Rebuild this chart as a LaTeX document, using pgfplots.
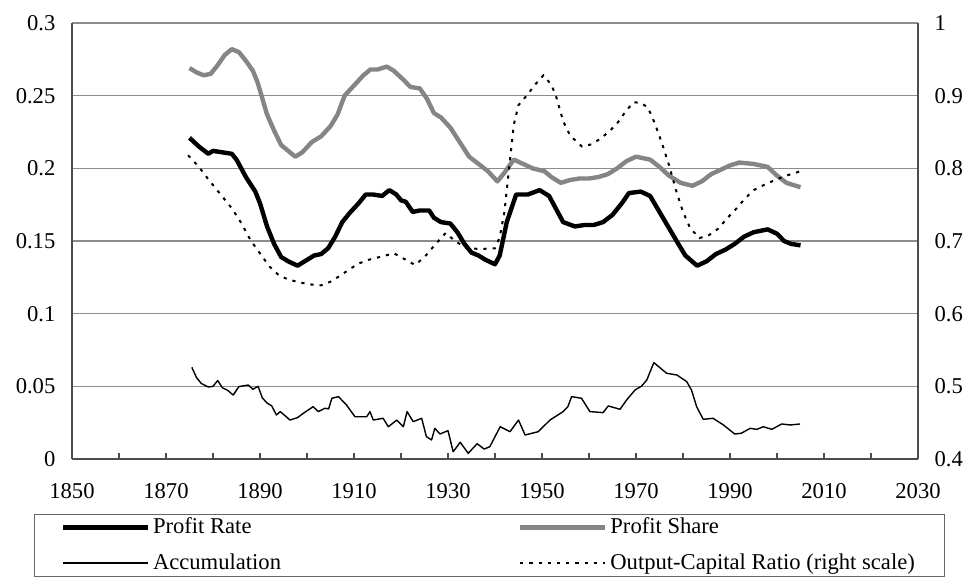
\documentclass[border=0pt]{standalone}
\usepackage{fontspec}
\setmainfont{Liberation Serif}
\usepackage{pgfplots}
\pgfplotsset{compat=1.18}
\definecolor{shareGray}{gray}{0.52}
\definecolor{gridGray}{gray}{0.55}
\definecolor{axGray}{gray}{0.3}
\begin{document}
\begin{tikzpicture}[font=\fontsize{11.3}{13.5}\selectfont]
\useasboundingbox (-36pt,-61.5pt) rectangle (451pt,229.5pt);
\pgfplotsset{
  common/.style={
    scale only axis, width=423pt, height=218pt,
    xmin=1850, xmax=2030,
    /pgf/number format/assume math mode=true,
    tick label style={font=\fontsize{11.3}{13.5}\selectfont},
    axis line style={draw=axGray, line width=0.8pt},
    ytick style={draw=none},
  },
  pr/.style={black, line width=2.2pt, line join=round},
  ps/.style={shareGray, line width=2.2pt, line join=round},
  acc/.style={black, line width=0.7pt, line join=round},
  ocr/.style={black, line width=1pt, dash pattern=on 1.6pt off 3pt},
}
\begin{axis}[common,
  ymin=0, ymax=0.3,
  axis y line*=left, axis x line*=bottom,
  ytick={0,0.05,0.1,0.15,0.2,0.25,0.3},
  yticklabels={0,0.05,0.1,0.15,0.2,0.25,0.3},
  yticklabel style={xshift=-4.8pt},
  xtick={1850,1870,1890,1910,1930,1950,1970,1990,2010,2030},
  xticklabels={1850,1870,1890,1910,1930,1950,1970,1990,2010,2030},
  minor xtick={1860,1880,1900,1920,1940,1960,1980,2000,2020},
  xticklabel style={yshift=-8.8pt},
  tick align=inside, major tick length=3pt, minor tick length=3pt,
  x tick style={draw=axGray, line width=0.6pt},
  ymajorgrids, grid style={draw=gridGray, line width=0.7pt},
]
% Profit Share
\addplot[ps] coordinates {
(1875,0.269)(1876.5,0.266)(1878,0.264)(1879.5,0.265)(1881,0.271)(1882.5,0.278)
(1884,0.282)(1885.5,0.280)(1887,0.274)(1888.5,0.267)(1889.5,0.259)(1890.5,0.248)
(1891.5,0.237)(1893,0.226)(1894.5,0.216)(1896,0.212)(1897.5,0.208)(1899,0.211)
(1901,0.218)(1903,0.222)(1905,0.229)(1906.5,0.237)(1908,0.250)(1910,0.257)
(1912,0.264)(1913.5,0.268)(1915,0.268)(1917,0.270)(1918.5,0.267)(1920.5,0.261)
(1922,0.256)(1924,0.255)(1925.5,0.248)(1927,0.238)(1928.5,0.235)(1930.5,0.228)
(1932.5,0.218)(1934.5,0.208)(1936.5,0.203)(1938.5,0.198)(1940.5,0.191)(1942,0.197)
(1944,0.206)(1946,0.203)(1948,0.200)(1950.5,0.198)(1952,0.194)(1954,0.190)
(1956,0.192)(1958,0.193)(1960,0.193)(1962,0.194)(1964,0.196)(1966,0.200)
(1968,0.205)(1970,0.208)(1973,0.206)(1975,0.201)(1977,0.195)(1979.5,0.190)
(1982,0.188)(1984,0.191)(1986,0.196)(1988,0.199)(1990,0.202)(1992,0.204)
(1995,0.203)(1998,0.201)(2000,0.195)(2002,0.190)(2005,0.187)
};
% Profit Rate
\addplot[pr] coordinates {
(1875,0.221)(1877,0.215)(1879,0.210)(1880,0.212)(1882,0.211)(1884,0.210)
(1885,0.206)(1887,0.194)(1889,0.184)(1890,0.176)(1891.5,0.160)(1893,0.148)
(1894.5,0.139)(1896,0.136)(1898,0.133)(1900,0.137)(1901.5,0.140)(1903,0.141)
(1904.5,0.145)(1906,0.153)(1907.5,0.163)(1909,0.169)(1911,0.176)(1912.5,0.182)
(1914,0.182)(1916,0.181)(1917.5,0.185)(1919,0.182)(1920,0.178)(1921,0.177)
(1922.5,0.170)(1924,0.171)(1926,0.171)(1927,0.166)(1928.5,0.163)(1930.5,0.162)
(1932,0.156)(1933.5,0.148)(1935,0.142)(1936.5,0.140)(1938,0.137)(1940,0.134)
(1941,0.140)(1942.5,0.163)(1944.5,0.182)(1947,0.182)(1949.5,0.185)(1951.5,0.181)
(1953,0.172)(1954.5,0.163)(1957,0.160)(1959,0.161)(1961,0.161)(1963,0.163)
(1965,0.168)(1967,0.176)(1968.5,0.183)(1971,0.184)(1973,0.181)(1975,0.170)
(1977,0.159)(1979,0.148)(1980.5,0.140)(1983,0.133)(1985,0.136)(1987,0.141)
(1989,0.144)(1991,0.148)(1993,0.153)(1995,0.156)(1998,0.158)(2000,0.155)
(2001.5,0.150)(2003,0.148)(2005,0.147)
};
% Accumulation
\addplot[acc] coordinates {
(1875.5,0.0630)(1876.5,0.0560)(1877.5,0.0520)(1879,0.0495)(1880,0.0500)(1881,0.0540)
(1882,0.0490)(1883,0.0475)(1884.3,0.0440)(1885.5,0.0498)(1887.5,0.0509)(1888.5,0.0480)
(1889.6,0.0500)(1890.5,0.0420)(1891.5,0.0385)(1892.5,0.0365)(1893.5,0.0303)(1894.3,0.0326)
(1896.4,0.0268)(1898,0.0285)(1899.2,0.0314)(1901.3,0.0360)(1902.4,0.0326)(1903.8,0.0349)
(1904.6,0.0345)(1905.3,0.0418)(1906.7,0.0429)(1908.4,0.0372)(1910.2,0.0291)(1912.7,0.0291)
(1913.4,0.0326)(1914.1,0.0268)(1916.2,0.0280)(1917.3,0.0222)(1919.1,0.0268)(1920.5,0.0222)
(1921.3,0.0326)(1922.6,0.0257)(1924.4,0.0280)(1925.4,0.0154)(1926.5,0.0131)(1927.2,0.0211)
(1928.3,0.0172)(1930,0.0195)(1931.1,0.0050)(1932.6,0.0115)(1934.3,0.0039)(1936.2,0.0105)
(1937.7,0.0068)(1938.9,0.0085)(1941.1,0.0222)(1943.2,0.0188)(1945,0.0268)(1946.4,0.0165)
(1949.2,0.0188)(1951.7,0.0268)(1954.5,0.0326)(1955.5,0.0360)(1956.3,0.0429)(1958.4,0.0418)
(1960.2,0.0326)(1963,0.0319)(1964.1,0.0365)(1966.6,0.0342)(1968,0.0406)(1969.8,0.0475)
(1971.2,0.0502)(1972.3,0.0544)(1973.8,0.0663)(1976.5,0.0590)(1978.7,0.0578)(1980.8,0.0532)
(1981.8,0.0475)(1982.9,0.0360)(1984.3,0.0273)(1986.4,0.0280)(1988.6,0.0234)(1991,0.0172)
(1992.4,0.0177)(1994.3,0.0211)(1995.7,0.0204)(1997.1,0.0222)(1998.9,0.0204)(2001,0.0241)
(2002.8,0.0234)(2004.9,0.0241)
};
\end{axis}
\begin{axis}[common,
  ymin=0.4, ymax=1,
  axis y line*=right, axis x line=none,
  ytick={0.4,0.5,0.6,0.7,0.8,0.9,1},
  yticklabels={0.4,0.5,0.6,0.7,0.8,0.9,1},
  yticklabel style={xshift=4.8pt},
  legend columns=2,
  legend cell align=left,
  legend image code/.code={\draw[#1] (0pt,0pt) -- (42.5pt,0pt);},
  legend style={at={(-0.0449,-0.1261)}, anchor=north west,
    draw=black!60, line width=0.6pt,
    inner xsep=13pt, inner ysep=2pt,
    column sep=0pt, row sep=8.8pt,
    nodes={inner sep=0pt, text height=0.75em, text depth=0.15em},
    font=\fontsize{11.3}{13.5}\selectfont},
]
\addlegendimage{pr}
\addlegendentry{\makebox[184pt][l]{\hspace{1.5pt}Profit Rate}}
\addlegendimage{ps}
\addlegendentry{\makebox[155.5pt][l]{\hspace{1.5pt}Profit Share}}
\addlegendimage{acc}
\addlegendentry{\makebox[184pt][l]{\hspace{1.5pt}Accumulation}}
\addplot[ocr] coordinates {
(1874.7,0.818)(1877,0.802)(1879,0.785)(1881,0.769)(1884,0.745)(1886,0.725)
(1888,0.701)(1890,0.683)(1892,0.665)(1894,0.653)(1896,0.647)(1898.5,0.643)
(1901,0.640)(1903,0.639)(1905,0.644)(1907,0.652)(1909,0.661)(1911,0.669)
(1913,0.674)(1915.5,0.678)(1918.5,0.683)(1920.5,0.676)(1923,0.667)(1925,0.678)
(1927,0.693)(1929.5,0.711)(1931.5,0.700)(1934,0.690)(1937,0.689)(1940,0.690)
(1941,0.705)(1942,0.740)(1943,0.800)(1944,0.860)(1945,0.887)(1947,0.902)
(1948.5,0.915)(1950.3,0.928)(1952,0.915)(1953,0.899)(1954.5,0.865)(1956,0.845)
(1958.5,0.830)(1960.5,0.833)(1962.5,0.841)(1964.5,0.852)(1966,0.862)(1968,0.880)
(1969.5,0.891)(1971,0.890)(1972.5,0.884)(1974,0.862)(1975.5,0.835)(1977,0.805)
(1978.5,0.770)(1980,0.740)(1981.5,0.718)(1983.5,0.704)(1985.5,0.708)(1987.5,0.717)
(1989.5,0.732)(1991,0.742)(1993,0.757)(1995,0.770)(1997.5,0.778)(2000,0.785)
(2002,0.790)(2005,0.796)
};
\addlegendentry{\makebox[155.5pt][l]{\hspace{1.5pt}Output-Capital Ratio (right scale)}}
\end{axis}
\end{tikzpicture}
\end{document}
